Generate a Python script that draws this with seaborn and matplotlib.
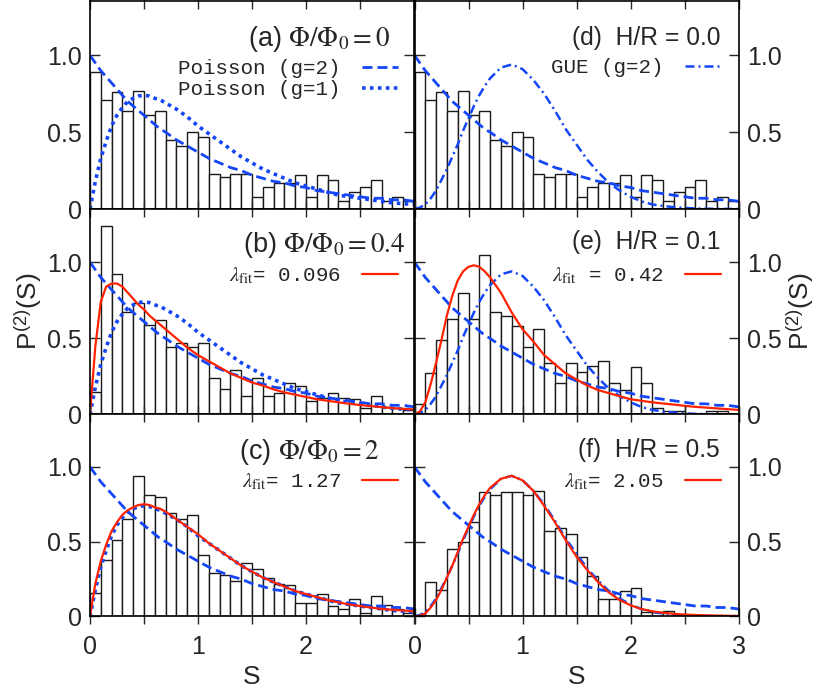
import numpy as np
import pandas as pd
import matplotlib
matplotlib.use("Agg")
import matplotlib.pyplot as plt
import seaborn as sns

sns.set_style("ticks")
plt.rcParams['font.family'] = ['Liberation Sans', 'DejaVu Sans']
plt.rcParams['mathtext.fontset'] = 'stix'

# histogram bins (width 0.1 from 0 to 3)
edges = np.round(np.arange(0, 3.01, 0.1), 2)
centers = (edges[:-1] + edges[1:]) / 2

# bar heights
hist_a = [0.89, 0.71, 0.76, 0.64, 0.77, 0.61, 0.64, 0.45, 0.41, 0.50,
          0.47, 0.23, 0.21, 0.23, 0.23, 0.08, 0.14, 0.17, 0.17, 0.22,
          0.08, 0.22, 0.19, 0.05, 0.11, 0.14, 0.19, 0.05, 0.08, 0.05]
hist_b = [0.15, 1.24, 0.92, 0.67, 0.73, 0.59, 0.62, 0.44, 0.47, 0.44,
          0.47, 0.24, 0.17, 0.29, 0.12, 0.24, 0.12, 0.14, 0.21, 0.19,
          0.09, 0.11, 0.14, 0.11, 0.10, 0.04, 0.12, 0.05, 0.04, 0.03]
hist_c = [0.16, 0.38, 0.51, 0.65, 0.94, 0.81, 0.80, 0.69, 0.65, 0.68,
          0.41, 0.29, 0.28, 0.24, 0.36, 0.32, 0.26, 0.22, 0.21, 0.09,
          0.09, 0.15, 0.07, 0.05, 0.12, 0.02, 0.14, 0.08, 0.05, 0.02]
hist_d = hist_a
hist_e = [0.07, 0.27, 0.49, 0.63, 0.80, 0.63, 1.05, 0.67, 0.65, 0.58,
          0.44, 0.56, 0.34, 0.21, 0.34, 0.28, 0.32, 0.35, 0.21, 0.16,
          0.31, 0.21, 0.04, 0.02, 0.02, 0.00, 0.00, 0.02, 0.02, 0.00]
hist_f = [0.01, 0.23, 0.18, 0.45, 0.50, 0.63, 0.83, 0.81, 0.83, 0.83,
          0.81, 0.84, 0.57, 0.59, 0.55, 0.40, 0.27, 0.12, 0.12, 0.17,
          0.19, 0.03, 0.03, 0.04, 0.00, 0.00, 0.00, 0.00, 0.00, 0.00]

# curves
S = [0, 0.05, 0.1, 0.15, 0.2, 0.25, 0.3, 0.35, 0.4, 0.45, 0.5, 0.55, 0.6, 0.65,
     0.7, 0.8, 0.9, 1.0, 1.1, 1.2, 1.3, 1.4, 1.5, 1.6, 1.7, 1.8, 1.9, 2.0,
     2.1, 2.2, 2.3, 2.4, 2.5, 2.6, 2.7, 2.8, 2.9, 3.0]
poisson_g2 = [1.00, 0.95, 0.90, 0.86, 0.82, 0.78, 0.74, 0.70, 0.67, 0.64, 0.61,
              0.58, 0.55, 0.52, 0.50, 0.45, 0.41, 0.37, 0.33, 0.30, 0.27, 0.25,
              0.22, 0.20, 0.18, 0.17, 0.15, 0.14, 0.12, 0.11, 0.10, 0.09, 0.08,
              0.07, 0.07, 0.06, 0.06, 0.05]
poisson_g1 = [0.00, 0.18, 0.33, 0.44, 0.54, 0.61, 0.66, 0.70, 0.72, 0.735, 0.74,
              0.735, 0.72, 0.71, 0.69, 0.65, 0.60, 0.54, 0.49, 0.44, 0.39, 0.34,
              0.30, 0.26, 0.23, 0.20, 0.17, 0.15, 0.13, 0.11, 0.09, 0.08, 0.07,
              0.06, 0.05, 0.04, 0.035, 0.03]
gue_g2 = [0.00, 0.01, 0.03, 0.07, 0.12, 0.19, 0.26, 0.34, 0.42, 0.51, 0.59,
          0.67, 0.74, 0.80, 0.85, 0.92, 0.94, 0.91, 0.84, 0.75, 0.64, 0.52,
          0.42, 0.32, 0.24, 0.17, 0.12, 0.08, 0.05, 0.03, 0.02, 0.012, 0.007,
          0.004, 0.002, 0.001, 0.0005, 0.0]
fit_b = [0.00, 0.45, 0.74, 0.84, 0.86, 0.86, 0.84, 0.80, 0.76, 0.72, 0.69,
         0.65, 0.62, 0.59, 0.56, 0.50, 0.44, 0.39, 0.35, 0.31, 0.27, 0.24,
         0.21, 0.19, 0.165, 0.145, 0.13, 0.115, 0.10, 0.09, 0.08, 0.07, 0.062,
         0.055, 0.048, 0.042, 0.037, 0.033]
fit_c = [0.00, 0.22, 0.37, 0.48, 0.57, 0.63, 0.68, 0.71, 0.73, 0.745, 0.75,
         0.745, 0.73, 0.72, 0.70, 0.65, 0.60, 0.55, 0.49, 0.44, 0.39, 0.34,
         0.30, 0.26, 0.23, 0.20, 0.17, 0.15, 0.13, 0.11, 0.095, 0.08, 0.07,
         0.06, 0.05, 0.045, 0.04, 0.035]
fit_e = [0.00, 0.02, 0.08, 0.20, 0.34, 0.49, 0.65, 0.78, 0.88, 0.94, 0.97,
         0.98, 0.97, 0.94, 0.90, 0.80, 0.67, 0.56, 0.48, 0.39, 0.33, 0.27,
         0.23, 0.19, 0.16, 0.14, 0.12, 0.10, 0.09, 0.08, 0.072, 0.065, 0.057,
         0.05, 0.045, 0.04, 0.035, 0.03]
fit_f = [0.00, 0.005, 0.02, 0.06, 0.11, 0.18, 0.26, 0.34, 0.43, 0.52, 0.60,
         0.68, 0.75, 0.81, 0.86, 0.92, 0.94, 0.91, 0.84, 0.74, 0.63, 0.51,
         0.40, 0.31, 0.23, 0.16, 0.11, 0.075, 0.05, 0.035, 0.025, 0.018, 0.013,
         0.01, 0.008, 0.006, 0.005, 0.004]

titles = [r"(a) $\Phi/\Phi_0 = 0$", r"(b) $\Phi/\Phi_0 = 0.4$", r"(c) $\Phi/\Phi_0 = 2$",
          "(d)  H/R = 0.0", "(e)  H/R = 0.1", "(f)  H/R = 0.5"]
fit_labels = [r"$\lambda_{\rm fit}$= 0.096", r"$\lambda_{\rm fit}$= 1.27",
              r"$\lambda_{\rm fit}$ = 0.42", r"$\lambda_{\rm fit}$= 2.05"]

blue = '#1446f5'
red = '#ff2200'
dash_ls = (0, (3.6, 1.8))
dot_ls = (0, (1.0, 1.2))
dashdot_ls = (0, (3.6, 1.6, 0.8, 1.6))
mono = {'family': 'Liberation Mono', 'size': 15}

fig = plt.figure(figsize=(8.3, 7), dpi=100)
col_x = [0.1084, 0.4994]
col_w = 0.3904
rows = [(0.7014, 0.2965), (0.4079, 0.2936), (0.1193, 0.2886)]

panels = [
    # (row, col, hist, reference curve, fit curve, fit label, title pos, title size)
    (0, 0, hist_a, 'g1', None, None, (0.926, 0.82), 19.5),
    (1, 0, hist_b, 'g1', fit_b, fit_labels[0], (0.972, 0.825), 19.5),
    (2, 0, hist_c, 'g1', fit_c, fit_labels[1], (0.895, 0.816), 19.5),
    (0, 1, hist_d, 'gue', None, None, (0.943, 0.825), 17.7),
    (1, 1, hist_e, 'gue', fit_e, fit_labels[2], (0.943, 0.84), 17.7),
    (2, 1, hist_f, 'gue', fit_f, fit_labels[3], (0.943, 0.824), 17.7),
]

for i, (r, c, hist, ref, fit, flabel, tpos, tsize) in enumerate(panels):
    y0, h = rows[r]
    ax = fig.add_axes([col_x[c], y0, col_w, h])
    df = pd.DataFrame({'S': centers, 'P': hist})
    sns.histplot(data=df, x='S', weights='P', binwidth=0.1, binrange=(0, 3),
                 ax=ax, stat='count', facecolor='white', edgecolor='#1a1a1a',
                 linewidth=1.0, alpha=1)

    sns.lineplot(x=S, y=poisson_g2, ax=ax, color=blue, lw=2.0,
                 linestyle=dash_ls, label='Poisson (g=2)')
    h_g2 = ax.lines[-1]
    if ref == 'g1':
        sns.lineplot(x=S, y=poisson_g1, ax=ax, color=blue, lw=2.6,
                     linestyle=dot_ls, label='Poisson (g=1)')
    else:
        sns.lineplot(x=S, y=gue_g2, ax=ax, color=blue, lw=1.8,
                     linestyle=dashdot_ls, label='GUE (g=2)')
    h_ref = ax.lines[-1]
    if fit is not None:
        sns.lineplot(x=S, y=fit, ax=ax, color=red, lw=1.6, label=flabel)
        handles = [ax.lines[-1]]
    elif ref == 'g1':
        handles = [h_g2, h_ref]
    else:
        handles = [h_ref]

    lx = 0.951 if c == 0 else 0.946
    if r == 0:
        ly = 0.626 if ref == 'g1' else 0.681
    elif r == 1:
        ly = 0.675
    else:
        ly = 0.667
    ax.legend(handles=handles, labels=[hh.get_label() for hh in handles],
              loc='center right', bbox_to_anchor=(lx, ly), frameon=False,
              markerfirst=False, prop=mono, handlelength=1.75,
              handletextpad=1.0, labelspacing=0.12, borderaxespad=0, borderpad=0)

    ax.text(tpos[0], tpos[1], titles[i], transform=ax.transAxes,
            ha='right', va='center', fontsize=tsize)

    ax.set_xlim(0, 3)
    ax.set_ylim(0, 1.35)
    ax.set_xticks(np.arange(0, 3.01, 0.5))
    ax.set_yticks([0, 0.5, 1.0])
    ax.set_yticklabels(['0', '0.5', '1.0'])
    if c == 0:
        ax.set_xticklabels(['0', '', '1', '', '2', '', ''])
    else:
        ax.set_xticklabels(['0', '', '1', '', '2', '', '3'])
    ax.tick_params(axis='x', direction='inout', length=11, width=1,
                   top=True, bottom=True, labelsize=18, pad=8,
                   labelbottom=(r == 2))
    ax.tick_params(axis='y', direction='in', length=7, width=1,
                   left=True, right=True, labelsize=18, pad=6,
                   labelleft=(c == 0), labelright=(c == 1))
    for sp in ax.spines.values():
        sp.set_linewidth(1.2)
        sp.set_color('black')
    ax.set_xlabel('')
    ax.set_ylabel('')
    if r == 2:
        ax.set_xlabel('S', fontsize=19, labelpad=4)
    if r == 1:
        if c == 1:
            ax.yaxis.set_label_position('right')
        ax.set_ylabel(r"P$^{\mathregular{(2)}}$(S)", fontsize=19, labelpad=2)

fig.savefig('out.png', dpi=100)
